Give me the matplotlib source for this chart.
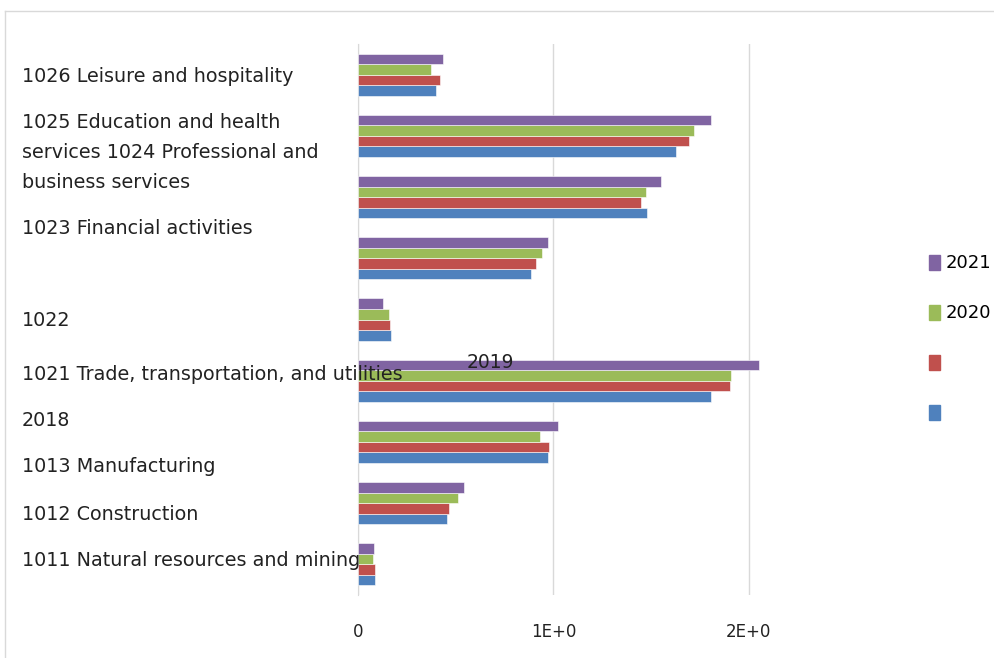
import numpy as np
import matplotlib.pyplot as plt
from matplotlib.lines import Line2D
from matplotlib.patches import Patch

plt.rcParams['font.family'] = ['DejaVu Sans']

# groups from bottom to top
groups = ["1011", "1012", "1013", "1021", "1022", "1023", "1024", "1025", "1026"]
years = ["2018", "2019", "2020", "2021"]
v2018 = [0.086, 0.453, 0.971, 1.808, 0.171, 0.887, 1.477, 1.627, 0.400]
v2019 = [0.089, 0.467, 0.976, 1.903, 0.166, 0.911, 1.446, 1.696, 0.420]
v2020 = [0.079, 0.513, 0.930, 1.911, 0.161, 0.942, 1.472, 1.720, 0.376]
v2021 = [0.082, 0.544, 1.022, 2.053, 0.130, 0.973, 1.549, 1.808, 0.434]
colors = ["#4F81BD", "#C0504D", "#9BBB59", "#8064A2"]

# stray text labels as they sit in the chart
label_texts = ["1026 Leisure and hospitality", "1025 Education and health",
               "services 1024 Professional and", "business services",
               "1023 Financial activities", "1022",
               "1021 Trade, transportation, and utilities", "2018",
               "1013 Manufacturing", "1012 Construction",
               "1011 Natural resources and mining"]
label_px = [76, 122, 152, 182, 228, 321, 375, 421, 467, 514, 560]

W, H = 995, 658
fig = plt.figure(figsize=(W / 100, H / 100), dpi=100)
ax = fig.add_axes([358 / W, 1 - 595 / H, (915 - 358) / W, (595 - 44) / H])

y = np.arange(len(groups))
h = 0.172
for i, vals in enumerate([v2018, v2019, v2020, v2021]):
    ax.barh(y + (i - 1.5) * h, vals, height=h, color=colors[i],
            edgecolor="white", linewidth=0.4, zorder=3)

ax.set_ylim(-0.5, len(groups) - 0.5)
ax.set_xlim(0, 2.85)
ax.set_xticks([0, 1, 2])
ax.set_xticklabels(["0", "1E+0", "2E+0"], fontsize=12, color="#222222")
ax.set_yticks([])
ax.grid(axis="x", color="#D9D9D9", linewidth=1, zorder=0)
for s in ["top", "right", "bottom"]:
    ax.spines[s].set_visible(False)
ax.spines["left"].set_color("#D9D9D9")
ax.tick_params(axis="x", length=0, pad=20)

for t, py in zip(label_texts, label_px):
    fig.text(22 / W, 1 - py / H, t, ha="left", va="center", fontsize=13.8,
             color="#222222")

fig.text(490 / W, 1 - 363 / H, "2019", ha="center", va="center",
         fontsize=13.5, color="#222222")

handles = [Patch(color=colors[3]), Patch(color=colors[2]),
           Patch(color=colors[1]), Patch(color=colors[0])]
fig.legend(handles, ["2021", "2020", "", ""], loc="upper left",
           bbox_to_anchor=(913 / W, 1 - 238 / H), frameon=False,
           fontsize=13, handlelength=0.6, handleheight=0.9,
           handletextpad=0.3, labelspacing=1.78)

# outer chart border
fig.add_artist(Line2D([5 / W, 5 / W], [0, 1 - 11 / H], color="#D9D9D9", lw=1))
fig.add_artist(Line2D([5 / W, 1], [1 - 11 / H, 1 - 11 / H], color="#D9D9D9", lw=1))

fig.savefig("out.png", dpi=100)
